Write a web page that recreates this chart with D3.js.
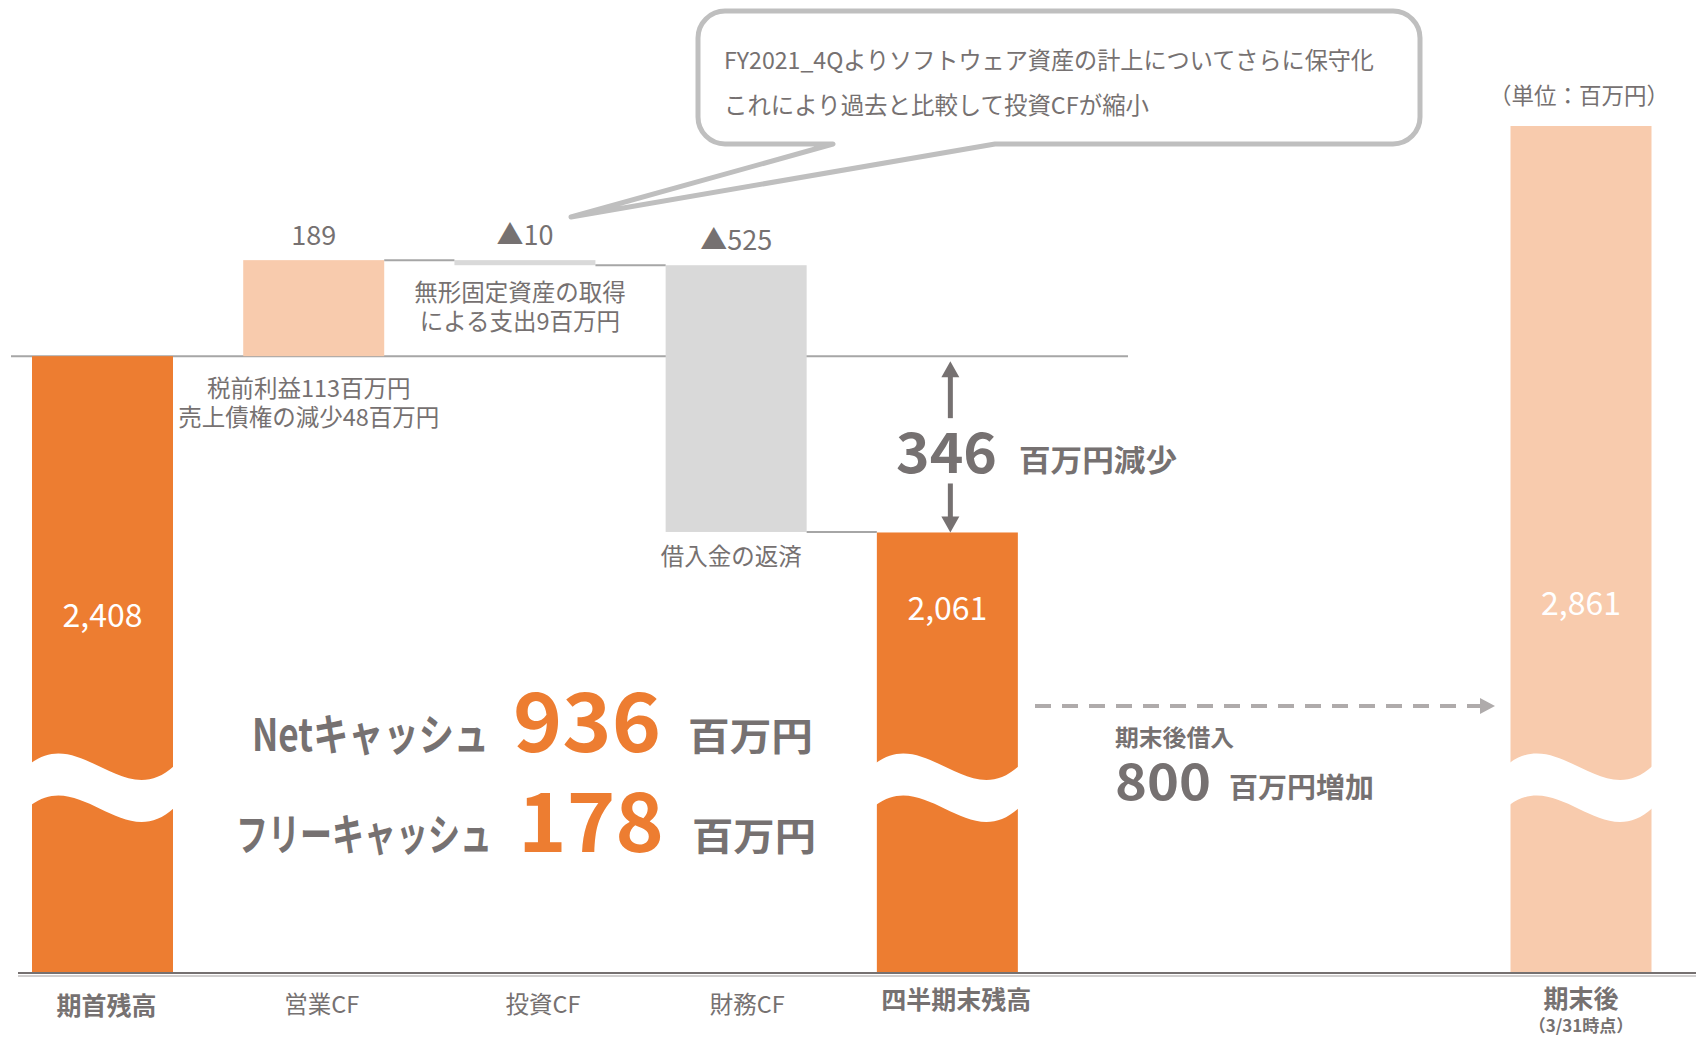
<!DOCTYPE html>
<html>
<head>
<meta charset="utf-8">
<script src="https://cdn.jsdelivr.net/npm/d3@7"></script>
<style>
  body { margin: 0; background: #fff; }
  svg text { font-family: "Noto Sans CJK JP", "Noto Sans", sans-serif; }
</style>
</head>
<body>
<svg id="chart" width="1696" height="1038"></svg>
<script>
// data
const categories = ['期首残高', '営業CF', '投資CF', '財務CF', '四半期末残高', '期末後'];
const subLabels = ['', '', '', '', '', '（3/31時点）'];
const amounts = [2408, 189, -10, -525, 2061, 2861];
const barKinds = ['total', 'delta', 'delta', 'delta', 'total', 'total'];
const amountLabels = ['2,408', '189', '▲10', '▲525', '2,061', '2,861'];
const noteLines = [[], ['税前利益113百万円', '売上債権の減少48百万円'], ['無形固定資産の取得', 'による支出9百万円'], ['借入金の返済'], [], []];
const calloutLines = ['FY2021_4Qよりソフトウェア資産の計上についてさらに保守化', 'これにより過去と比較して投資CFが縮小'];
const netCash = 936;
const freeCash = 178;
const cashDecrease = 346;
const postLoan = 800;
const unitLabel = '（単位：百万円）';

// colours
const ORANGE = '#ED7D31';
const PEACH = '#F8CBAD';
const LGRAY = '#D9D9D9';
const TEXT = '#767171';
const LINE = '#A6A6A6';
const barColors = [ORANGE, PEACH, LGRAY, LGRAY, ORANGE, PEACH];

const svg = d3.select('svg#chart');

// scales (axis is broken near the bottom, so domain starts above zero)
const slots = [0, 1, 2, 3, 4, 7];
const xCenter = d3.scaleLinear().domain([0, 7]).range([102.5, 1581]);
const barW = 141;
const yScale = d3.scaleLinear().domain([1194, 2861]).range([973, 126]);
const baseY = yScale.range()[0];

// waterfall geometry
let running = 0;
const bars = amounts.map((v, i) => {
  let lo, hi;
  if (barKinds[i] === 'total') {
    lo = yScale.domain()[0]; hi = v; running = v;
  } else {
    const start = running, end = running + v;
    lo = Math.min(start, end); hi = Math.max(start, end); running = end;
  }
  const cx = xCenter(slots[i]);
  return { i, cx, x0: cx - barW / 2, x1: cx + barW / 2, top: yScale(hi), bottom: yScale(lo), end: running };
});

// reference line at opening balance
svg.append('line')
  .attr('x1', 11).attr('x2', 1128)
  .attr('y1', yScale(amounts[0])).attr('y2', yScale(amounts[0]))
  .attr('stroke', LINE).attr('stroke-width', 2);

// bars
svg.selectAll('rect.bar').data(bars).enter()
  .append('rect')
  .attr('class', 'bar')
  .attr('x', d => d.x0)
  .attr('y', d => d.top)
  .attr('width', barW)
  .attr('height', d => d.bottom - d.top)
  .attr('fill', d => barColors[d.i]);

// connectors between consecutive bars
const links = [1, 2, 3].map(i => ({ x1: bars[i].x1, x2: bars[i + 1].x0, y: yScale(bars[i].end) }));
svg.selectAll('line.link').data(links).enter()
  .append('line')
  .attr('class', 'link')
  .attr('x1', d => d.x1).attr('x2', d => d.x2)
  .attr('y1', d => d.y).attr('y2', d => d.y)
  .attr('stroke', LINE).attr('stroke-width', 2);

// wave breaks on total bars
const waveTop = 763, waveGap = 42;
function wavePath(d) {
  const a = d.x0 - 1, b = d.x1 + 1, w = b - a;
  const up = `M${a},${waveTop} C${a + 0.35 * w},${waveTop - 37} ${a + 0.65 * w},${waveTop + 49} ${b},${waveTop + 3}`;
  const lo = waveTop + waveGap;
  const down = `L${b},${lo + 3} C${a + 0.65 * w},${lo + 49} ${a + 0.35 * w},${lo - 37} ${a},${lo} Z`;
  return up + down;
}
svg.selectAll('path.wave').data(bars.filter(d => barKinds[d.i] === 'total')).enter()
  .append('path')
  .attr('class', 'wave')
  .attr('fill', '#fff')
  .attr('d', wavePath);

// axis baseline
svg.append('line').attr('x1', 18).attr('x2', 1696).attr('y1', baseY).attr('y2', baseY)
  .attr('stroke', TEXT).attr('stroke-width', 2);
svg.append('line').attr('x1', 18).attr('x2', 1696).attr('y1', baseY + 3).attr('y2', baseY + 3)
  .attr('stroke', '#D0CECE').attr('stroke-width', 2);

// value labels
const deltaBars = bars.filter(d => barKinds[d.i] === 'delta');
svg.selectAll('text.delta').data(deltaBars).enter()
  .append('text')
  .attr('class', 'delta')
  .attr('x', d => d.cx)
  .attr('y', d => d.top - 15)
  .attr('text-anchor', 'middle')
  .attr('font-size', 27)
  .attr('fill', TEXT)
  .text(d => amountLabels[d.i]);

const totalLabelY = [627, 620, 615];
svg.selectAll('text.total').data(bars.filter(d => barKinds[d.i] === 'total')).enter()
  .append('text')
  .attr('class', 'total')
  .attr('x', d => d.cx)
  .attr('y', (d, k) => totalLabelY[k])
  .attr('text-anchor', 'middle')
  .attr('font-size', 32)
  .attr('fill', '#fff')
  .text(d => amountLabels[d.i]);

// notes under the delta bars
const noteDy = [0, 41, 36, 33, 0, 0];
bars.forEach(d => {
  noteLines[d.i].forEach((line, k) => {
    svg.append('text')
      .attr('x', d.cx - 5)
      .attr('y', d.bottom + noteDy[d.i] + k * 28.5)
      .attr('text-anchor', 'middle')
      .attr('font-size', 23.5)
      .attr('fill', TEXT)
      .text(line);
  });
});

// category labels
const labelShift = [4, 8, 18, 11, 9, 0];
const labelBold = [true, false, false, false, true, true];
const labelY = [1015, 1013, 1013, 1013, 1009, 1008];
svg.selectAll('text.cat').data(bars).enter()
  .append('text')
  .attr('class', 'cat')
  .attr('x', d => d.cx + labelShift[d.i])
  .attr('y', d => labelY[d.i])
  .attr('text-anchor', 'middle')
  .attr('font-size', d => labelBold[d.i] ? 25 : 23.5)
  .attr('font-weight', d => labelBold[d.i] ? 700 : 400)
  .attr('fill', TEXT)
  .text(d => categories[d.i]);
svg.append('text')
  .attr('x', bars[5].cx).attr('y', 1032)
  .attr('text-anchor', 'middle')
  .attr('font-size', 17).attr('font-weight', 700)
  .attr('fill', TEXT)
  .text(subLabels[5]);

// unit
svg.append('text')
  .attr('x', 1579).attr('y', 104)
  .attr('text-anchor', 'middle')
  .attr('font-size', 22.5)
  .attr('fill', TEXT)
  .text(unitLabel);

// callout: rounded box with a pointer, drawn as one outline
const box = { x0: 698, y0: 11, x1: 1420, y1: 144, r: 27 };
const tailL = 833, tailR = 995, tip = [571, 217];
const calloutPath = [
  `M${box.x0 + box.r},${box.y0}`,
  `H${box.x1 - box.r}`,
  `A${box.r},${box.r} 0 0 1 ${box.x1},${box.y0 + box.r}`,
  `V${box.y1 - box.r}`,
  `A${box.r},${box.r} 0 0 1 ${box.x1 - box.r},${box.y1}`,
  `H${tailR}`,
  `L${tip[0]},${tip[1]}`,
  `L${tailL},${box.y1}`,
  `H${box.x0 + box.r}`,
  `A${box.r},${box.r} 0 0 1 ${box.x0},${box.y1 - box.r}`,
  `V${box.y0 + box.r}`,
  `A${box.r},${box.r} 0 0 1 ${box.x0 + box.r},${box.y0}`,
  'Z'
].join(' ');
svg.append('path')
  .attr('d', calloutPath)
  .attr('fill', '#fff').attr('stroke', '#BFBFBF').attr('stroke-width', 5)
  .attr('stroke-linejoin', 'round');
const calloutWidths = [650, 425];
calloutLines.forEach((line, k) => {
  svg.append('text')
    .attr('x', 724).attr('y', 69 + k * 45)
    .attr('font-size', 23.5)
    .attr('fill', TEXT)
    .attr('textLength', calloutWidths[k])
    .attr('lengthAdjust', 'spacingAndGlyphs')
    .text(line);
});

// helper for condensed bold text
function label(x, y, str, size, color, width, anchor) {
  const t = svg.append('text')
    .attr('x', x).attr('y', y)
    .attr('font-size', size).attr('font-weight', 700)
    .attr('fill', color)
    .attr('text-anchor', anchor || 'start')
    .text(str);
  if (width) t.attr('textLength', width).attr('lengthAdjust', 'spacingAndGlyphs');
  return t;
}

// change between opening and quarter-end
const arrowX = bars[4].cx + 3;
const yA = yScale(amounts[0]), yB = yScale(amounts[4]);
svg.append('line').attr('x1', arrowX).attr('x2', arrowX).attr('y1', yA + 20).attr('y2', yA + 62)
  .attr('stroke', TEXT).attr('stroke-width', 5);
svg.append('path').attr('d', `M${arrowX},${yA + 5} L${arrowX - 9},${yA + 21} L${arrowX + 9},${yA + 21} Z`).attr('fill', TEXT);
svg.append('line').attr('x1', arrowX).attr('x2', arrowX).attr('y1', yB - 49).attr('y2', yB - 14)
  .attr('stroke', TEXT).attr('stroke-width', 5);
svg.append('path').attr('d', `M${arrowX},${yB} L${arrowX - 9},${yB - 16} L${arrowX + 9},${yB - 16} Z`).attr('fill', TEXT);
label(896, 473, String(cashDecrease), 56, TEXT, 101);
label(1019, 471, '百万円減少', 30, TEXT, 158);

// net cash / free cash
label(252, 751, 'Netキャッシュ', 44, TEXT, 237);
label(513, 752, String(netCash), 82, ORANGE, 148);
label(688, 750, '百万円', 38, TEXT, 125);
label(236, 851, 'フリーキャッシュ', 44, TEXT, 256);
label(518, 852, String(freeCash), 82, ORANGE, 146);
label(692, 850, '百万円', 38, TEXT, 124);

// post-period borrowing
const dashY = 706;
svg.append('line').attr('x1', 1035).attr('x2', 1480).attr('y1', dashY).attr('y2', dashY)
  .attr('stroke', '#AFABAB').attr('stroke-width', 4).attr('stroke-dasharray', '16,11');
svg.append('path').attr('d', `M1495,${dashY} L1480,${dashY - 8} L1480,${dashY + 8} Z`).attr('fill', '#AFABAB');
label(1115, 746, '期末後借入', 23, TEXT, 119);
label(1115, 800, String(postLoan), 50, TEXT, 96);
label(1229, 798, '百万円増加', 28, TEXT, 145);
</script>
</body>
</html>
